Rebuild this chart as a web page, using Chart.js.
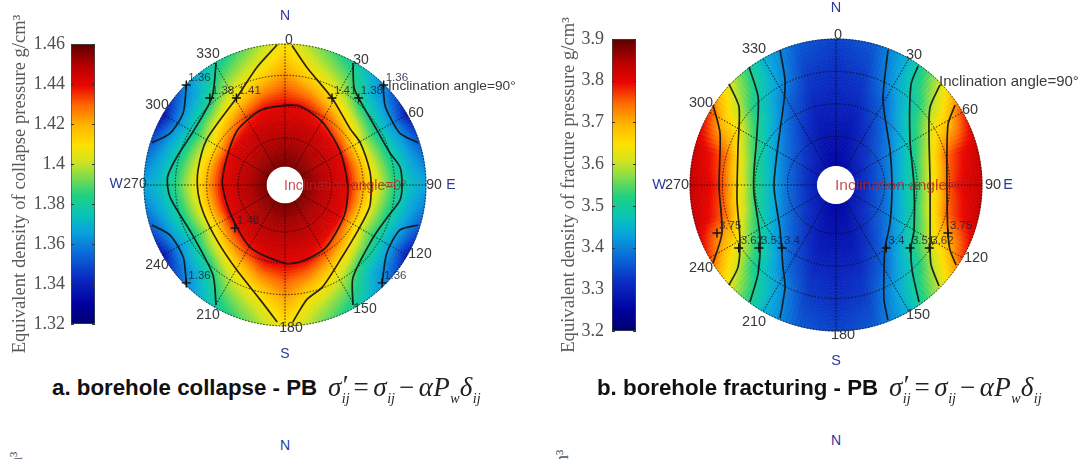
<!DOCTYPE html>
<html><head><meta charset="utf-8">
<style>
html,body{margin:0;padding:0;background:#fff;width:1080px;height:459px;overflow:hidden}
canvas{position:absolute;filter:blur(0.45px)}
.cap{position:absolute;font:bold 22.3px "Liberation Sans",Arial,sans-serif;color:#111;white-space:nowrap}
.eq{position:absolute;font:italic 27px "Liberation Serif",serif;color:#222;white-space:nowrap;letter-spacing:.5px}
.eq sub{font-size:14px;vertical-align:-7px;line-height:0;letter-spacing:0}
.eq .p{display:inline-block;width:0;position:relative;left:1px;top:-2px;font-style:normal}
.eq .n{font-style:normal;margin:0 4px}
.frag{position:absolute;font:18px "Liberation Serif",serif;color:#555;transform:rotate(-90deg);transform-origin:left top;white-space:nowrap}
.nn{position:absolute;font:14px "Liberation Sans",Arial,sans-serif;color:#2a3a9a;transform:translate(-50%,-50%)}
</style>
</head><body>
<canvas id="barA" style="left:0;top:0"></canvas>
<canvas id="polA" style="left:100px;top:0"></canvas>
<canvas id="barB" style="left:545px;top:0"></canvas>
<canvas id="polB" style="left:640px;top:0"></canvas>

<div class="cap" style="left:52px;top:375px">a. borehole collapse - PB</div>
<div class="eq" style="left:328px;top:372px"><i>σ</i><span class="p">′</span><sub>ij</sub><span class="n">=</span>σ<sub>ij</sub><span class="n">−</span>αP<sub>w</sub>δ<sub>ij</sub></div>
<div class="cap" style="left:597px;top:375px">b. borehole fracturing - PB</div>
<div class="eq" style="left:889px;top:372px"><i>σ</i><span class="p">′</span><sub>ij</sub><span class="n">=</span>σ<sub>ij</sub><span class="n">−</span>αP<sub>w</sub>δ<sub>ij</sub></div>
<div class="nn" style="left:285px;top:445px">N</div>
<div class="nn" style="left:836px;top:440px">N</div>
<div class="frag" style="left:6px;top:479px">cm³</div>
<div class="frag" style="left:552px;top:477px">cm³</div>

<script src="https://cdn.jsdelivr.net/npm/chart.js@4"></script>
<script>
// ---------- shared polar grid ----------
const azimuths=[0,15,30,45,60,75,90,105,120,135,150,165,180,195,210,225,240,255,270,285,300,315,330,345];
const inclinations=[12,20,30,40,50,60,70,80,90];

// ---------- a. collapse: value per azimuth, from inclination 12 to 90 ----------
const collapse000=[1.456,1.453,1.449,1.445,1.441,1.432,1.424,1.416,1.409];
const collapse015=[1.456,1.453,1.449,1.445,1.440,1.426,1.412,1.401,1.393];
const collapse030=[1.456,1.452,1.448,1.444,1.433,1.415,1.401,1.390,1.379];
const collapse045=[1.456,1.452,1.447,1.442,1.424,1.404,1.382,1.368,1.360];
const collapse060=[1.456,1.451,1.446,1.441,1.415,1.394,1.376,1.361,1.338];
const collapse075=[1.456,1.451,1.446,1.440,1.418,1.398,1.380,1.367,1.355];
const collapse090=[1.456,1.451,1.446,1.440,1.420,1.402,1.385,1.373,1.367];
const collapse105=[1.456,1.451,1.446,1.440,1.418,1.398,1.380,1.367,1.355];
const collapse120=[1.456,1.451,1.446,1.441,1.415,1.394,1.376,1.361,1.338];
const collapse135=[1.456,1.452,1.447,1.442,1.424,1.404,1.382,1.368,1.360];
const collapse150=[1.456,1.452,1.448,1.444,1.433,1.415,1.401,1.390,1.379];
const collapse165=[1.456,1.453,1.449,1.445,1.440,1.426,1.412,1.401,1.393];
const collapse180=[1.456,1.453,1.449,1.445,1.441,1.432,1.424,1.416,1.409];
const collapse195=[1.456,1.453,1.449,1.445,1.440,1.426,1.412,1.401,1.393];
const collapse210=[1.456,1.452,1.448,1.444,1.432,1.414,1.400,1.389,1.378];
const collapse225=[1.456,1.452,1.447,1.442,1.424,1.403,1.382,1.368,1.360];
const collapse240=[1.456,1.451,1.446,1.441,1.415,1.394,1.375,1.360,1.337];
const collapse255=[1.456,1.451,1.446,1.440,1.418,1.398,1.380,1.367,1.355];
const collapse270=[1.456,1.451,1.446,1.440,1.420,1.402,1.385,1.373,1.367];
const collapse285=[1.456,1.451,1.446,1.440,1.418,1.398,1.380,1.367,1.355];
const collapse300=[1.456,1.451,1.446,1.441,1.415,1.394,1.375,1.360,1.336];
const collapse315=[1.456,1.452,1.447,1.442,1.424,1.404,1.382,1.368,1.360];
const collapse330=[1.456,1.452,1.448,1.444,1.433,1.415,1.401,1.389,1.378];
const collapse345=[1.456,1.453,1.449,1.445,1.440,1.426,1.412,1.401,1.393];

// ---------- b. fracturing ----------
const fracture000=[3.260,3.265,3.275,3.290,3.300,3.310,3.315,3.325,3.335];
const fracture015=[3.265,3.270,3.280,3.290,3.305,3.320,3.330,3.345,3.360];
const fracture030=[3.275,3.290,3.305,3.325,3.350,3.375,3.420,3.440,3.450];
const fracture045=[3.280,3.300,3.335,3.370,3.413,3.470,3.500,3.560,3.600];
const fracture060=[3.290,3.315,3.357,3.410,3.474,3.545,3.640,3.680,3.770];
const fracture075=[3.295,3.325,3.373,3.440,3.510,3.620,3.742,3.790,3.825];
const fracture090=[3.295,3.325,3.380,3.450,3.530,3.643,3.760,3.810,3.830];
const fracture105=[3.295,3.325,3.373,3.440,3.510,3.620,3.742,3.790,3.825];
const fracture120=[3.290,3.315,3.357,3.410,3.474,3.545,3.640,3.690,3.770];
const fracture135=[3.280,3.300,3.335,3.370,3.413,3.470,3.500,3.560,3.600];
const fracture150=[3.275,3.290,3.305,3.325,3.350,3.375,3.420,3.440,3.450];
const fracture165=[3.265,3.270,3.280,3.290,3.305,3.320,3.330,3.345,3.360];
const fracture180=[3.260,3.265,3.275,3.290,3.300,3.310,3.315,3.325,3.335];
const fracture195=[3.265,3.270,3.280,3.290,3.305,3.320,3.330,3.345,3.360];
const fracture210=[3.275,3.290,3.305,3.325,3.350,3.375,3.420,3.440,3.450];
const fracture225=[3.280,3.300,3.335,3.370,3.413,3.470,3.500,3.560,3.600];
const fracture240=[3.290,3.315,3.357,3.410,3.474,3.545,3.640,3.690,3.770];
const fracture255=[3.295,3.325,3.373,3.440,3.510,3.620,3.742,3.790,3.825];
const fracture270=[3.295,3.325,3.380,3.450,3.530,3.643,3.760,3.810,3.830];
const fracture285=[3.295,3.325,3.373,3.440,3.510,3.620,3.742,3.790,3.825];
const fracture300=[3.290,3.315,3.357,3.410,3.474,3.545,3.640,3.680,3.770];
const fracture315=[3.280,3.300,3.335,3.370,3.413,3.470,3.500,3.560,3.600];
const fracture330=[3.275,3.290,3.305,3.325,3.350,3.375,3.420,3.440,3.450];
const fracture345=[3.265,3.270,3.280,3.290,3.305,3.320,3.330,3.345,3.360];

// ---------- contour lines: [east, north] in degrees of inclination ----------
const contourA144=[[0,51],[9.6,50.4],[24,40],[35,22],[40,0],[38,-19],[26,-40],[10,-49],[0,-50],[-22,-40],[-35,-18],[-40,3],[-31,34],[-15,48],[0,51]];
const contourA141=[[4.5,89],[14,75],[30,55.5],[41.5,36],[48,27],[54,9.6],[55,-1.3],[54,-14],[46.6,-29],[36.4,-46],[24,-65],[14,-73],[5,-87.4]];
const contourA141W=[[-5,89.5],[-18,75],[-31,55.5],[-50,29],[-55.5,9.6],[-55.5,-5],[-52,-18],[-43,-36],[-31,-54],[-16,-73],[-5,-87.4]];
const contourA138=[[43.4,77.9],[44,62.5],[47,55.5],[58.7,35],[67,20.4],[73.4,11.5],[74.7,0],[73.4,-9.6],[65,-21],[56,-34],[43.4,-59],[43.4,-76.6]];
const contourA138W=[[-44,78],[-46.6,56],[-58.7,34],[-69,18],[-75,5],[-73.4,-7.7],[-59,-32],[-46,-57.4],[-44,-76.6]];
const contourA136NE=[[62.5,63.8],[63.8,51],[67,43.4],[73.4,33],[85,27]];
const contourA136SE=[[85,-25.5],[73.4,-28.7],[65,-43.4],[62,-62.5]];
const contourA136NW=[[-63,63.8],[-65,46],[-73.4,33],[-85,27]];
const contourA136SW=[[-85,-25.5],[-73.4,-32],[-65,-46],[-63,-62.5]];

const contourB340W=[[-34.5,83.2],[-31.4,64.7],[-32,52.4],[-36.4,19.7],[-38.2,1.2],[-37.6,-7.4],[-34.5,-27.7],[-32.7,-50.6],[-31.4,-62.9],[-34.5,-82]];
const contourB351W=[[-53.6,72.7],[-48,54.3],[-48.7,32],[-50.6,7.4],[-50.6,-4.9],[-46.9,-32],[-48,-54.3],[-53,-72.1]];
const contourB362W=[[-66,62.3],[-59.8,48.1],[-60.4,23.4],[-61,-9.2],[-59.2,-33.9],[-60.4,-50.6],[-66,-61.7]];
const contourB375W=[[-75.8,49.3],[-71.5,32],[-72.1,-1.2],[-70.3,-29.6],[-75.8,-48.1]];
const contourB340E=[[32,83.2],[29,52.4],[33.3,21.6],[34.5,0],[33.3,-23.4],[30.2,-38.8],[29.6,-52.4],[29.6,-70.9],[32,-83.2]];
const contourB351E=[[50.6,73.4],[46.2,61.7],[45.6,27.7],[48.1,0],[48.1,-27.7],[46.2,-38.8],[46.9,-52.4],[51.2,-72.1]];
const contourB362E=[[64.1,61.7],[58,48.1],[57.3,33.9],[58,0],[58,-38.8],[58.6,-49.3],[63.5,-62.3]];
const contourB375E=[[73.4,49.3],[69,37],[68.4,0],[69,-29.6],[70.3,-40],[74,-49.3]];

// ---------- contour value marks ----------
const marksAXY=[[-63,63.8],[-48,55.5],[-31,55.5],[30,55.5],[47,55.5],[63,63.8],[-32,-27.5],[-63,-62.5],[62,-62.5]];
const marksAText=['1.36','1.38','1.41','1.41','1.38','1.36','1.48','1.36','1.36'];
const marksBXY=[[-73.4,-29.6],[-60,-38.8],[-47.5,-38.8],[-33.3,-38.8],[31,-38.8],[45.6,-38.8],[57.5,-38.8],[69,-29.6]];
const marksBText=['3.75','3.62','3.51','3.4','3.4','3.51','3.62','3.75'];

// ---------- colour bars ----------
const barATicks=[1.32,1.34,1.36,1.38,1.40,1.42,1.44,1.46];
const barBTicks=[3.2,3.3,3.4,3.5,3.6,3.7,3.8,3.9];
const colorStops=[[0,'#00006e'],[.07,'#0000a0'],[.16,'#0a28c0'],[.25,'#0a68d8'],[.33,'#08a4dc'],[.39,'#08c4b8'],[.46,'#20d080'],[.52,'#78dc50'],[.58,'#d0e420'],[.64,'#ffe000'],[.71,'#ffb400'],[.78,'#ff6a00'],[.85,'#ea0600'],[.92,'#b80000'],[1,'#5c0000']];

// ---------- helpers ----------
const hex=h=>[parseInt(h.slice(1,3),16),parseInt(h.slice(3,5),16),parseInt(h.slice(5,7),16)];
const stopsRgb=colorStops.map(s=>[s[0],hex(s[1])]);
function colorAt(t){
  t=Math.max(0,Math.min(1,t));
  for(let i=1;i<stopsRgb.length;i++){
    if(t<=stopsRgb[i][0]){
      const a=stopsRgb[i-1],b=stopsRgb[i],f=(t-a[0])/(b[0]-a[0]);
      return 'rgb('+a[1].map((c,k)=>Math.round(c+(b[1][k]-c)*f)).join(',')+')';
    }
  }
  return colorStops[colorStops.length-1][1];
}
const east=(az,inc)=>inc*Math.sin(az*Math.PI/180);
const north=(az,inc)=>inc*Math.cos(az*Math.PI/180);

// field shading: each grid cell is painted through the chart scales
const heatPlugin={id:'heat',beforeDatasetsDraw(chart){
  const o=chart.options.plugins.heat,ctx=chart.ctx,X=chart.scales.x,Y=chart.scales.y,cols=o.cols;
  const P=(az,inc)=>[X.getPixelForValue(east(az,inc)),Y.getPixelForValue(north(az,inc))];
  const subA=8,subR=6;
  ctx.save();ctx.lineWidth=.7;
  for(let a=0;a<azimuths.length;a++){
    const a2=(a+1)%azimuths.length,az1=azimuths[a];
    for(let r=0;r<inclinations.length-1;r++){
      const i1=inclinations[r],i2=inclinations[r+1];
      for(let sa=0;sa<subA;sa++)for(let sr=0;sr<subR;sr++){
        const u=(sa+.5)/subA,w=(sr+.5)/subR;
        const v=(cols[a][r]*(1-w)+cols[a][r+1]*w)*(1-u)+(cols[a2][r]*(1-w)+cols[a2][r+1]*w)*u;
        const A0=az1+15*sa/subA,A1=az1+15*(sa+1)/subA,R0=i1+(i2-i1)*sr/subR,R1=i1+(i2-i1)*(sr+1)/subR;
        const c=colorAt((v-o.min)/(o.max-o.min));
        ctx.fillStyle=c;ctx.strokeStyle=c;ctx.beginPath();
        let p=P(A0,R0);ctx.moveTo(p[0],p[1]);
        p=P(A1,R0);ctx.lineTo(p[0],p[1]);
        p=P(A1,R1);ctx.lineTo(p[0],p[1]);
        p=P(A0,R1);ctx.lineTo(p[0],p[1]);
        ctx.closePath();ctx.fill();ctx.stroke();
      }
    }
  }
  // rings and spokes
  const cx=X.getPixelForValue(0),cy=Y.getPixelForValue(0),unit=X.getPixelForValue(1)-cx;
  ctx.strokeStyle='rgba(10,10,10,.85)';ctx.lineWidth=1;ctx.setLineDash([1.5,1.6]);
  o.rings.forEach(i=>{ctx.beginPath();ctx.arc(cx,cy,i*unit,0,Math.PI*2);ctx.stroke();});
  o.spokes.forEach(az=>{const p=P(az,12),q=P(az,90);ctx.beginPath();ctx.moveTo(p[0],p[1]);ctx.lineTo(q[0],q[1]);ctx.stroke();});
  ctx.restore();
}};

// labels placed as offsets from the plot centre
const textPlugin={id:'polarText',afterDatasetsDraw(chart){
  const o=chart.options.plugins.polarText,ctx=chart.ctx,X=chart.scales.x,Y=chart.scales.y;
  const cx=X.getPixelForValue(0),cy=Y.getPixelForValue(0);
  ctx.save();ctx.textBaseline='middle';ctx.textAlign='center';
  ctx.font=o.font;
  o.labels.forEach(l=>{ctx.fillStyle=l[3]||'#3a3a3a';ctx.fillText(l[0],cx+l[1],cy+l[2]);});
  ctx.textAlign='left';
  ctx.font=o.noteFont;ctx.fillStyle='#3a3a3a';ctx.fillText('Inclination angle=90°',cx+o.noteX,cy+o.noteY);
  ctx.font=o.redFont;ctx.fillStyle='rgba(190,30,40,.8)';ctx.fillText('Inclination angle=0°',cx-1,cy+1);
  ctx.font='11.5px "Liberation Sans",Arial,sans-serif';ctx.fillStyle='rgba(25,35,60,.85)';
  o.marks.forEach((m,i)=>{ctx.fillText(o.markText[i],X.getPixelForValue(m[0])+2,Y.getPixelForValue(m[1])-7);});
  ctx.restore();
}};

function polarChart(id,left,width,height,cx,cy,R,cols,min,max,lines,marks,markText,labels,note,fonts){
  const el=document.getElementById(id);el.width=width;el.height=height;
  el.style.width=width+'px';el.style.height=height+'px';
  const u=R/90;
  const toXY=a=>a.map(p=>({x:p[0],y:p[1]}));
  const nodes=[];azimuths.forEach((az,a)=>inclinations.forEach((inc,r)=>nodes.push({x:east(az,inc),y:north(az,inc),v:cols[a][r]})));
  const datasets=[{label:'field',data:nodes,pointRadius:0,showLine:false}];
  lines.forEach(l=>datasets.push({label:'contour',data:toXY(l),showLine:true,fill:false,pointRadius:0,borderColor:'rgba(15,20,20,.9)',borderWidth:1.7,tension:.25}));
  datasets.push({label:'marks',data:toXY(marks),showLine:false,pointStyle:'cross',pointRadius:4.5,pointBorderWidth:1.4,pointBorderColor:'#111'});
  return new Chart(el,{type:'scatter',data:{datasets},plugins:[heatPlugin,textPlugin],options:{
    responsive:false,animation:false,events:[],
    layout:{padding:0,autoPadding:false},
    scales:{
      x:{type:'linear',display:false,min:(left-cx)/u,max:(left+width-cx)/u},
      y:{type:'linear',display:false,min:(cy-height)/u,max:cy/u}
    },
    plugins:{legend:{display:false},tooltip:{enabled:false},
      heat:{cols,min,max,rings:[30,50,70,90],spokes:[0,30,60,90,120,150,180,210,240,270,300,330]},
      polarText:{labels,marks,markText,font:fonts.font,noteFont:fonts.note,redFont:fonts.red,noteX:note[0],noteY:note[1]}
    }
  }});
}

function colorBar(id,width,height,padTop,padBottom,barLeft,barW,ticks,title,titlePad,tickPad){
  const el=document.getElementById(id);el.width=width;el.height=height;
  el.style.width=width+'px';el.style.height=height+'px';
  const innerTicks={id:'innerTicks',afterDatasetsDraw(c){
    const a=c.chartArea,Y=c.scales.y,ctx=c.ctx;ctx.save();ctx.strokeStyle='#333';ctx.lineWidth=1;
    ticks.forEach(t=>{const p=Math.round(Y.getPixelForValue(t))+.5;ctx.beginPath();ctx.moveTo(a.left,p);ctx.lineTo(a.left+3,p);ctx.moveTo(a.right-3,p);ctx.lineTo(a.right,p);ctx.stroke();});
    ctx.restore();
  }};
  return new Chart(el,{type:'bar',plugins:[innerTicks],data:{labels:['bar'],datasets:[{
    data:[[ticks[0],ticks[ticks.length-1]]],barPercentage:1,categoryPercentage:1,borderColor:'#3c4a4a',borderWidth:1,borderSkipped:false,
    backgroundColor(ctx){
      const a=ctx.chart.chartArea;if(!a)return '#888';
      const g=ctx.chart.ctx.createLinearGradient(0,a.bottom,0,a.top);
      colorStops.forEach(s=>g.addColorStop(s[0],s[1]));return g;
    }}]},options:{
    responsive:false,animation:false,events:[],
    layout:{padding:{top:padTop,bottom:padBottom,right:width-barLeft-barW,left:0},autoPadding:false},
    scales:{
      x:{display:false},
      y:{min:ticks[0],max:ticks[ticks.length-1],afterFit(s){s.width=barLeft;},
        afterBuildTicks(s){s.ticks=ticks.map(v=>({value:v}));},
        grid:{display:false,drawTicks:false,tickLength:0},border:{display:false},
        ticks:{padding:tickPad,color:'#4e4e4e',font:{family:'"Liberation Serif",serif',size:18},callback:v=>String(parseFloat(v.toFixed(2)))},
        title:{display:true,text:title,color:'#5a5a5a',font:{family:'"Liberation Serif",serif',size:18.6},padding:{top:titlePad,bottom:0}}
      }
    },
    plugins:{legend:{display:false},tooltip:{enabled:false}}
  }});
}

const collapseCols=[collapse000,collapse015,collapse030,collapse045,collapse060,collapse075,collapse090,collapse105,collapse120,collapse135,collapse150,collapse165,collapse180,collapse195,collapse210,collapse225,collapse240,collapse255,collapse270,collapse285,collapse300,collapse315,collapse330,collapse345];
const fractureCols=[fracture000,fracture015,fracture030,fracture045,fracture060,fracture075,fracture090,fracture105,fracture120,fracture135,fracture150,fracture165,fracture180,fracture195,fracture210,fracture225,fracture240,fracture255,fracture270,fracture285,fracture300,fracture315,fracture330,fracture345];

const BLUE='#2a3a9a';
colorBar('barA',100,370,44,46,71,24,barATicks,'Equivalent density of collapse pressure g/cm³',9,6);
colorBar('barB',95,370,39,39,67,24,barBTicks,'Equivalent density of fracture pressure g/cm³',13,8);

polarChart('polA',100,445,370,285,185,141,collapseCols,1.32,1.46,
 [contourA144,contourA141,contourA141W,contourA138,contourA138W,contourA136NE,contourA136SE,contourA136NW,contourA136SW],
 marksAXY,marksAText,
 [['N',0,-169,BLUE],['S',0,169,BLUE],['0',4,-145],['30',76,-125],['60',131,-72],['90',149,0],['E',166,0,BLUE],['120',135,69],['150',80,124],['180',6,143],['210',-77,130],['240',-128,80],['W',-169,-1,BLUE],['270',-150,-1],['300',-128,-80],['330',-77,-131]],
 [103,-99],{font:'14px "Liberation Sans",Arial,sans-serif',note:'13.7px "Liberation Sans",Arial,sans-serif',red:'14px "Liberation Sans",Arial,sans-serif'});

polarChart('polB',640,440,370,836,185,146,fractureCols,3.2,3.9,
 [contourB340W,contourB351W,contourB362W,contourB375W,contourB340E,contourB351E,contourB362E,contourB375E],
 marksBXY,marksBText,
 [['N',0,-177,BLUE],['S',0,176,BLUE],['0',2,-150],['30',78,-130],['60',134,-75],['90',157,0],['E',172,0,BLUE],['120',140,73],['150',82,130],['180',7,150],['210',-82,137],['240',-135,83],['W',-177,0,BLUE],['270',-159,0],['300',-135,-82],['330',-82,-136]],
 [103,-103],{font:'14.5px "Liberation Sans",Arial,sans-serif',note:'15px "Liberation Sans",Arial,sans-serif',red:'15.5px "Liberation Sans",Arial,sans-serif'});
</script>
</body></html>
